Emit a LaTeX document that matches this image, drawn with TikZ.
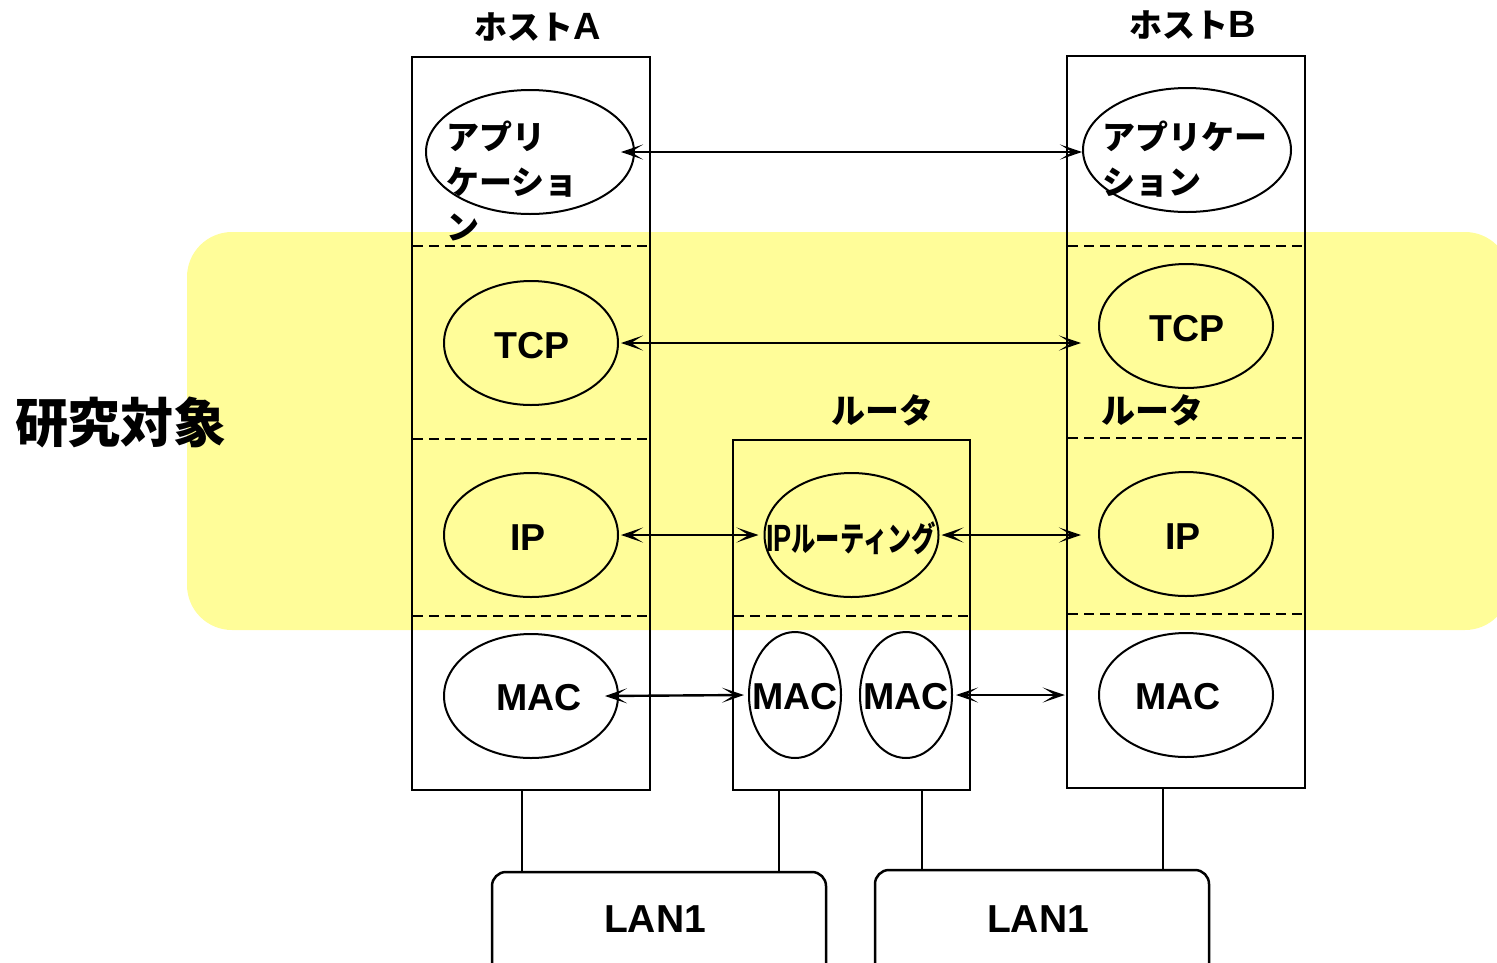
\documentclass[tikz,border=0pt]{standalone}
\usepackage{fontspec}
\setmainfont{Noto Sans CJK JP}
\newfontfamily\lat{Liberation Sans}
\usetikzlibrary{arrows.meta,shapes.geometric}
\definecolor{band}{RGB}{255,253,153}
\tikzset{
  box/.style={draw, line width=2.5pt, rectangle, inner sep=0pt},
  lay/.style={draw, line width=2pt, ellipse, inner sep=0pt, minimum width=174pt, minimum height=124pt},
  macr/.style={draw, line width=2pt, ellipse, inner sep=0pt, minimum width=92pt, minimum height=126pt},
  lbl/.style={inner sep=0pt, font=\fontsize{33}{45}\selectfont\bfseries},
  llbl/.style={inner sep=0pt, font=\fontsize{37.5}{45}\selectfont\lat\bfseries},
  sep/.style={dashed, line width=2pt, dash pattern=on 10pt off 6pt},
  biarrow/.style={draw, line width=2.4pt, arrows={Stealth[length=22pt,width=15pt,inset=12pt]-Stealth[length=22pt,width=15pt,inset=12pt]}},
  lan/.style={draw, line width=2.5pt, rounded corners=14pt, rectangle, inner sep=0pt, minimum width=334pt, minimum height=160pt},
  wire/.style={line width=2pt}}
\begin{document}
\begin{tikzpicture}[x=1pt,y=-1pt]
\useasboundingbox (0,0) rectangle (1497,962);
\fill[band, rounded corners=45pt] (187,232) rectangle (1510,630);

% boxes
\node[box, minimum width=238pt, minimum height=733pt] (hostA) at (531,423.5) {};
\node[box, minimum width=238pt, minimum height=732pt] (hostB) at (1186,422) {};
\node[box, minimum width=237pt, minimum height=350pt] (router) at (851.5,615) {};

% dashed separators
\foreach \yy in {246,439,616} \draw[sep] (413,\yy) -- (648,\yy);
\foreach \yy in {246,438,614} \draw[sep] (1068,\yy) -- (1303,\yy);
\draw[sep] (734,616) -- (968,616);

% ellipses
\node[lay, minimum width=208pt] (appA) at (530,152) {};
\node[lay, minimum width=208pt] (appB) at (1187,150) {};
\node[lay] (tcpA) at (531,343) {};
\node[lay] (tcpB) at (1186,326) {};
\node[lay] (ipA) at (531,535) {};
\node[lay] (ipB) at (1186,534) {};
\node[lay] (rip) at (851.5,535) {};
\node[lay] (macA) at (531,696) {};
\node[lay] (macB) at (1186,695) {};
\node[macr] (macR1) at (795,695) {};
\node[macr] (macR2) at (906,695) {};

% labels
\node[lbl] (tA) at (538,27) {ホスト{\fontsize{38}{45}\selectfont\lat A}};
\node[lbl] (tB) at (1193,25) {ホスト{\fontsize{38}{45}\selectfont\lat B}};
\node[lbl, align=left, anchor=north west] (tappA) at (446,121) {アプリ\\ケーショ\\ン};
\node[lbl, align=left, anchor=north west] (tappB) at (1102,121) {アプリケー\\ション};
\node[llbl] (ttcpA) at (532,346) {TCP};
\node[llbl] (ttcpB) at (1187,329) {TCP};
\node[llbl] (tipA) at (528,538) {IP};
\node[llbl] (tipB) at (1183,537) {IP};
\node[llbl] (tmacA) at (539,698) {MAC};
\node[llbl] (tmacB) at (1178,697) {MAC};
\node[llbl] (tmacR1) at (795,697) {MAC};
\node[llbl] (tmacR2) at (906,697) {MAC};
\node[lbl, font=\fontsize{34}{45}\selectfont\bfseries] (trouter) at (882,410) {ルータ};
\node[lbl, font=\fontsize{34}{45}\selectfont\bfseries] (trouterB) at (1152,410) {ルータ};
\node[lbl, font=\fontsize{34}{45}\selectfont\bfseries] (trip) at (851,538) {\resizebox{170pt}{\height}{{\fontsize{38}{45}\selectfont\lat IP}ルーティング}};
\node[inner sep=0pt, font=\fontsize{53}{60}\selectfont\bfseries] (study) at (121,422) {研究対象};

% arrows
\path[biarrow] ([xshift=-14pt]appA.east) -- ([xshift=0pt]appA.east -| appB.west);
\path[biarrow] ([xshift=2pt]tcpA.east) -- ([xshift=-17pt]tcpA.east -| tcpB.west);
\path[biarrow] ([xshift=2pt]ipA.east) -- ([xshift=-5pt]rip.west);
\path[biarrow] ([xshift=2pt]rip.east) -- ([xshift=-17pt]rip.east -| ipB.west);
\path[biarrow] ([xshift=-14pt]macA.east) -- ([xshift=-4pt]macR1.west);
\path[biarrow] ([xshift=3pt]macR2.east) -- ([xshift=-1pt]macR2.east -| hostB.west);

% LANs
\node[lan] (lan1) at (659,952) {};
\node[lan] (lan2) at (1042,950) {};
\node[llbl, font=\fontsize{39}{45}\selectfont\lat\bfseries] (tlan1) at (655,919) {LAN1};
\node[llbl, font=\fontsize{39}{45}\selectfont\lat\bfseries] (tlan2) at (1038,919) {LAN1};
\draw[wire] (hostA.south -| 522,0) -- (lan1.north -| 522,0);
\draw[wire] (router.south -| 779,0) -- (lan1.north -| 779,0);
\draw[wire] (router.south -| 922,0) -- (lan2.north -| 922,0);
\draw[wire] (hostB.south -| 1163,0) -- (lan2.north -| 1163,0);
\end{tikzpicture}
\end{document}
